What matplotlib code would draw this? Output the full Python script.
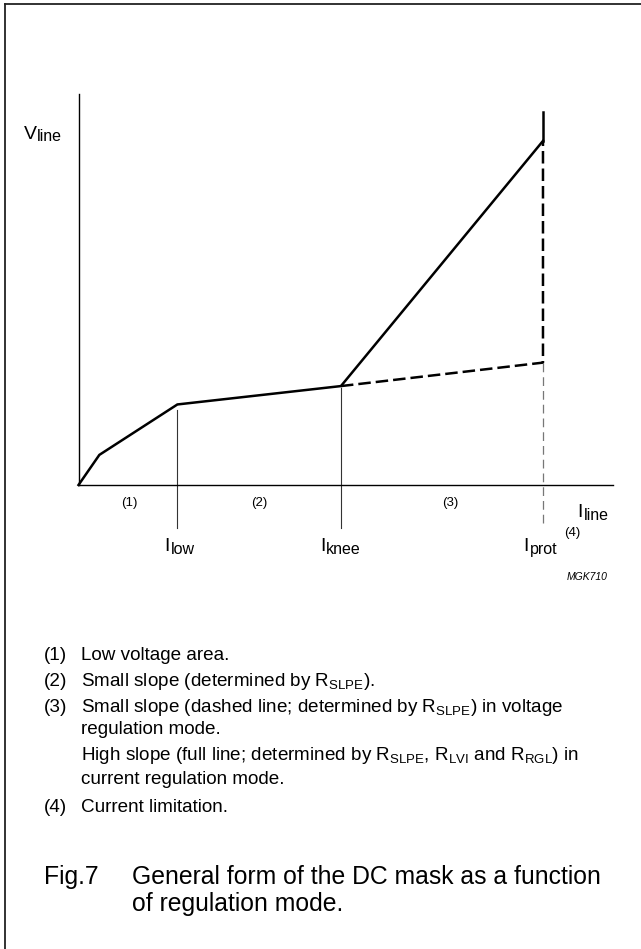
import matplotlib
matplotlib.use("Agg")
import matplotlib.pyplot as plt
from matplotlib.lines import Line2D

plt.rcParams['font.family'] = ['Liberation Sans', 'DejaVu Sans']
plt.rcParams['mathtext.fontset'] = 'custom'
plt.rcParams['mathtext.rm'] = 'Liberation Sans'
plt.rcParams['mathtext.it'] = 'Liberation Sans:italic'

# characteristic points of the DC mask (arbitrary units)
i_line = [0, 3.9, 18.5, 49.1, 86.9]
v_line = [0, 7.7, 20.6, 25.3, 88.0]
i_low, i_knee, i_prot = 18.5, 49.1, 86.9
v_prot_top = 95.5      # top of current limitation stub
v_dash_end = 31.3      # end of small slope (voltage regulation)
region_labels = ['(1)', '(2)', '(3)']
region_pos = [9.5, 33.8, 69.5]

notes = [
    ('(1)', 'Low voltage area.'),
    ('(2)', r'Small slope (determined by R$_{\mathrm{SLPE}}$).'),
    ('(3)', r'Small slope (dashed line; determined by R$_{\mathrm{SLPE}}$) in voltage'),
    ('', 'regulation mode.'),
    ('', r'High slope (full line; determined by R$_{\mathrm{SLPE}}$, R$_{\mathrm{LVI}}$ and R$_{\mathrm{RGL}}$) in'),
    ('', 'current regulation mode.'),
    ('(4)', 'Current limitation.'),
]
note_y = [655, 681, 708, 730, 756, 780, 807]

W, H = 641, 949
fig = plt.figure(figsize=(W / 100, H / 100), dpi=100)

# frame (top and left edges only)
fig.add_artist(Line2D([5 / W, 5 / W], [0, 1 - 3.5 / H], color='#222222', lw=1.3))
fig.add_artist(Line2D([5 / W, 1], [1 - 3.5 / H, 1 - 3.5 / H], color='#222222', lw=1.3))

ax = fig.add_axes([78.5 / W, 1 - 485 / H, (613 - 78.5) / W, (485 - 94) / H])
ax.set_xlim(0, 100)
ax.set_ylim(0, 100)
for s in ['top', 'right']:
    ax.spines[s].set_visible(False)
for s in ['left', 'bottom']:
    ax.spines[s].set_linewidth(1.0)
ax.set_xticks([])
ax.set_yticks([])
ax.patch.set_alpha(0)

# main characteristic
ax.plot(i_line, v_line, color='black', lw=1.8, solid_joinstyle='miter', clip_on=False)
ax.plot([i_prot, i_prot], [v_line[-1], v_prot_top], color='black', lw=1.8, clip_on=False)
ax.plot([i_knee, i_prot, i_prot], [v_line[3], v_dash_end, v_line[-1]], color='black',
        lw=1.8, dashes=(5, 2), clip_on=False)

# marker lines
ax.plot([i_low, i_low], [19.2, -11], color='#333333', lw=0.8, clip_on=False)
ax.plot([i_knee, i_knee], [24.8, -11], color='#333333', lw=0.8, clip_on=False)
ax.plot([i_prot, i_prot], [v_dash_end, -10.7], color='#777777', lw=0.9, dashes=(7, 4), clip_on=False)


def sub_label(x, y, base, sub, size=14, subsize=11.5):
    t = ax.text(x, y, base, fontsize=size, ha='left', va='baseline', clip_on=False)
    ax.annotate(sub, xy=(1, 0), xycoords=t, xytext=(0.6, 1.2), textcoords='offset points',
                fontsize=subsize, ha='left', va='baseline')
    return t


sub_label(-10.3, 88.5, 'V', 'line')
sub_label(93.4, -8.3, 'I', 'line')
sub_label(16.1, -17, 'I', 'low')
sub_label(45.2, -17, 'I', 'knee')
sub_label(83.3, -17, 'I', 'prot')
ax.text(i_prot + 4.0, -12.2, '(4)', fontsize=9.5, ha='left', va='center')
for lab, x in zip(region_labels, region_pos):
    ax.text(x, -4.6, lab, fontsize=9.5, ha='center', va='center')
ax.text(99, -23.5, 'MGK710', fontsize=7.5, style='italic', ha='right', va='center')

for (num, txt), y in zip(notes, note_y):
    if num:
        fig.text(44 / W, 1 - y / H, num, fontsize=13.6, ha='left', va='center')
    fig.text(81 / W, 1 - y / H, txt, fontsize=13.6, ha='left', va='center')

fig.text(44 / W, 1 - 877 / H, 'Fig.7', fontsize=17.8, ha='left', va='center')
fig.text(132 / W, 1 - 877 / H, 'General form of the DC mask as a function', fontsize=17.8,
         ha='left', va='center')
fig.text(132 / W, 1 - 904 / H, 'of regulation mode.', fontsize=17.8, ha='left', va='center')

fig.savefig('out.png', dpi=100)
